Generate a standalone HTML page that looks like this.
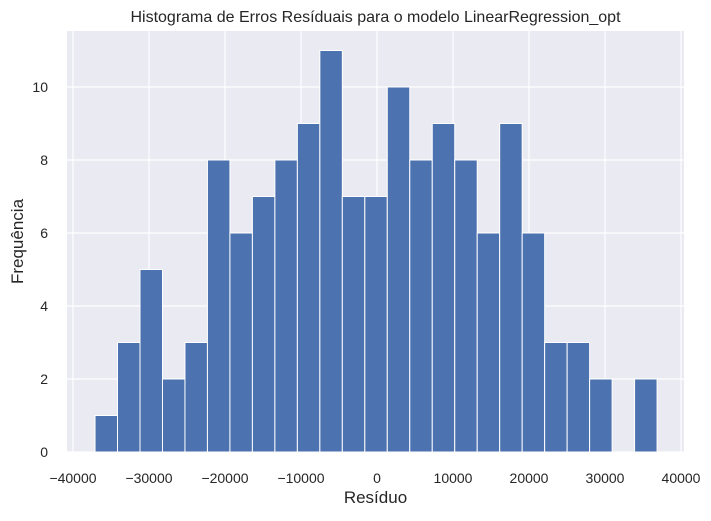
<!DOCTYPE html>
<html><head><meta charset="utf-8"><style>
body{margin:0;background:#fff}
svg text{font-family:"Liberation Sans","DejaVu Sans",sans-serif;fill:#262626}
</style></head><body>
<svg width="711" height="516" id="c"></svg>
<script>
const counts=[1,3,5,2,3,8,6,7,8,9,11,7,7,10,8,9,8,6,9,6,3,3,2,0,2];
const binStart=-37100;
const binWidth=2958;
const xTicks=[-40000,-30000,-20000,-10000,0,10000,20000,30000,40000];
const yTicks=[0,2,4,6,8,10];
const L=67,R=684,T=31,B=452;
const xs=v=>377+v*0.0076;
const ys=v=>B-v*36.5;
const s=document.getElementById('c');
const ns='http://www.w3.org/2000/svg';
function mk(t,a,p){const e=document.createElementNS(ns,t);for(const k in a)e.setAttribute(k,a[k]);(p||s).appendChild(e);return e;}
const bg=mk('rect',{x:L,y:T,width:R-L,height:B-T,fill:'#eaeaf2'});


xTicks.forEach(v=>{const l=mk('line',{x1:xs(v),x2:xs(v),y1:T,y2:B,stroke:'#fff','stroke-width':1.2});


const t=mk('text',{x:xs(v),y:B+31,'text-anchor':'middle','font-size':14});t.textContent=(v<0?'\u2212'+(-v):v);

});
yTicks.forEach(v=>{const l=mk('line',{x1:L,x2:R,y1:ys(v),y2:ys(v),stroke:'#fff','stroke-width':1.2});


const t=mk('text',{x:48,y:ys(v)+5,'text-anchor':'end','font-size':14});t.textContent=v;

});
counts.forEach((c,i)=>{if(!c)return;const x0=xs(binStart+i*binWidth),x1=xs(binStart+(i+1)*binWidth);
const r=mk('rect',{x:x0,y:ys(c),width:x1-x0,height:ys(0)-ys(c),fill:'#4c72b0',stroke:'#fff','stroke-width':1});

});
let t=mk('text',{x:(L+R)/2,y:22,'text-anchor':'middle','font-size':16});t.textContent='Histograma de Erros Resíduais para o modelo LinearRegression_opt';


t=mk('text',{x:(L+R)/2,y:503,'text-anchor':'middle','font-size':17});t.textContent='Resíduo';


t=mk('text',{x:0,y:0,'text-anchor':'middle','font-size':17,transform:`translate(23,${(T+B)/2}) rotate(-90)`});t.textContent='Frequência';


</script></body></html>
